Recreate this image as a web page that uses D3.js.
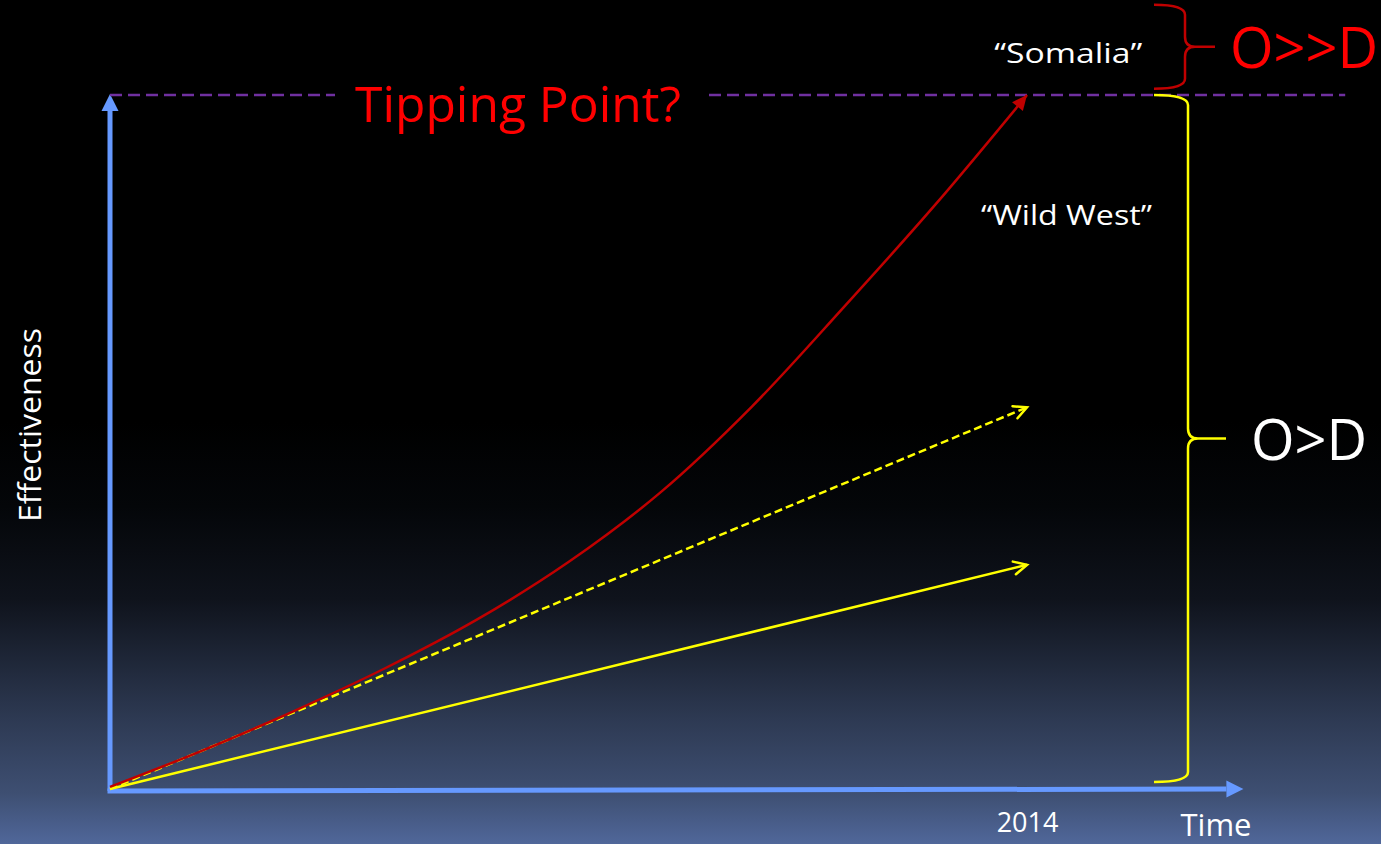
<!DOCTYPE html>
<html>
<head>
<meta charset="utf-8">
<script src="https://cdn.jsdelivr.net/npm/d3@7"></script>
<style>
  html, body { margin: 0; padding: 0; background: #000; }
  svg { display: block; }
  text { font-family: "Open Sans", sans-serif; }
</style>
</head>
<body>
<svg id="chart" width="1381" height="844"></svg>
<script>
// ---- data ----
const redCurve = [[0,0.003],[0.1,0.055],[0.2,0.112],[0.3,0.174],[0.4,0.244],[0.5,0.327],[0.6,0.427],[0.7,0.551],[0.8,0.694],[0.9,0.842],[1.0,1.0]];
const dashedLine = [[0,0],[1,0.550]];
const solidLine = [[0,0],[1,0.323]];
const timeTicks = [1];
const timeTickLabels = ["2014"];
const tippingLevel = 1.0;
const bands = [
  { from: 0.01, to: 1.0, label: "O>D", color: "#ffff00", textColor: "#ffffff" },
  { from: 1.009, to: 1.13, label: "O>>D", color: "#c00000", textColor: "#ff0000" }
];
const regionLabels = [
  { t: 1.045, v: 1.046, text: "\u201cSomalia\u201d" },
  { t: 1.043, v: 0.813, text: "\u201cWild West\u201d" }
];

// ---- layout ----
const W = 1381, H = 844;
const svg = d3.select("#chart");
const x = d3.scaleLinear().domain([0, 1]).range([110, 1027]);
const y = d3.scaleLinear().domain([0, 1]).range([789, 95]);
const xAxisEnd = 1.236, tipLineEnd = 1.347;

// background gradient
const defs = svg.append("defs");
const grad = defs.append("linearGradient").attr("id", "bg").attr("x1", 0).attr("y1", 0).attr("x2", 0).attr("y2", 1);
[[0,"#000000"],[0.5,"#000000"],[0.6,"#040609"],[0.71,"#0f131c"],[0.85,"#2d3952"],[0.94,"#3e4f72"],[1,"#50679a"]]
  .forEach(([o,c]) => grad.append("stop").attr("offset", o).attr("stop-color", c));
svg.append("rect").attr("width", W).attr("height", H).attr("fill", "url(#bg)");

// markers
function marker(id) {
  return defs.append("marker").attr("id", id)
    .attr("markerUnits", "userSpaceOnUse").attr("orient", "auto")
    .attr("viewBox", "-30 -15 60 30").attr("markerWidth", 60).attr("markerHeight", 30)
    .attr("refX", 0).attr("refY", 0).attr("overflow", "visible");
}
marker("arrRed").append("path").attr("d", "M0,0 L-15,-7 L-15,7 Z").attr("fill", "#c00000");
marker("arrYel").append("path").attr("d", "M-13,-6.5 L0,0 L-13,6.5").attr("fill", "none")
  .attr("stroke", "#ffff00").attr("stroke-width", 2.5).attr("stroke-linecap", "round");
marker("arrBlue").append("path").attr("d", "M17,0 L0,-8.5 L0,8.5 Z").attr("fill", "#6699ff");

// axes
const g = svg.append("g");
g.append("line").attr("x1", x(0)).attr("y1", y(0) + 2).attr("x2", x(0)).attr("y2", y(1) + 16)
  .attr("stroke", "#6699ff").attr("stroke-width", 5).attr("marker-end", "url(#arrBlue)");
g.append("line").attr("x1", x(0) - 2.5).attr("y1", y(0) + 2).attr("x2", x(xAxisEnd) - 17).attr("y2", y(0))
  .attr("stroke", "#6699ff").attr("stroke-width", 5).attr("marker-end", "url(#arrBlue)");

const xAxis = d3.axisBottom(x).tickValues(timeTicks).tickFormat((d, i) => timeTickLabels[i]).tickSize(0);
const ax = g.append("g").attr("transform", `translate(0,${y(0) + 21})`).call(xAxis);
ax.select(".domain").remove();
ax.selectAll("text").attr("fill", "#ffffff").attr("font-size", 27).attr("font-family", "Open Sans, sans-serif").attr("dy", "0.71em");

g.append("text").attr("x", 1216).attr("y", 836).attr("text-anchor", "middle").attr("fill", "#fff")
  .attr("font-size", 31).text("Time");
g.append("text").attr("transform", `translate(41,${425}) rotate(-90)`).attr("text-anchor", "middle")
  .attr("fill", "#fff").attr("font-size", 31).attr("textLength", 194).attr("lengthAdjust", "spacingAndGlyphs").text("Effectiveness");

// tipping point line with label
const tp = g.append("text").attr("x", 518).attr("y", 122).attr("text-anchor", "middle").attr("fill", "#ff0000")
  .attr("font-size", 50).attr("textLength", 326).attr("lengthAdjust", "spacingAndGlyphs").text("Tipping Point?");
const bb = tp.node().getBBox();
[[x(0), bb.x - 20], [bb.x + bb.width + 28, x(tipLineEnd)]].forEach(([a, b]) => {
  g.append("line").attr("x1", a).attr("x2", b).attr("y1", y(tippingLevel)).attr("y2", y(tippingLevel))
    .attr("stroke", "#7030a0").attr("stroke-width", 2.5).attr("stroke-dasharray", "12,6");
});

// series
const line = d3.line().x(d => x(d[0])).y(d => y(d[1]));
g.append("path").datum(solidLine).attr("d", line).attr("fill", "none").attr("stroke", "#ffff00")
  .attr("stroke-width", 2.5).attr("marker-end", "url(#arrYel)");
g.append("path").datum(dashedLine).attr("d", line).attr("fill", "none").attr("stroke", "#ffff00")
  .attr("stroke-width", 2.5).attr("stroke-dasharray", "8,4").attr("marker-end", "url(#arrYel)");
g.append("path").datum(redCurve).attr("d", line.curve(d3.curveCatmullRom.alpha(0.5))).attr("fill", "none").attr("stroke", "#c00000")
  .attr("stroke-width", 2.5).attr("marker-end", "url(#arrRed)");

// braces
function brace(x0, xs, xt, y0, y1, r) {
  const ym = (y0 + y1) / 2;
  const p = d3.path();
  p.moveTo(x0, y0);
  p.quadraticCurveTo(xs, y0, xs, y0 + r);
  p.lineTo(xs, ym - r);
  p.quadraticCurveTo(xs, ym, xs + r, ym);
  p.lineTo(xt, ym);
  p.moveTo(xs + r, ym);
  p.quadraticCurveTo(xs, ym, xs, ym + r);
  p.lineTo(xs, y1 - r);
  p.quadraticCurveTo(xs, y1, x0, y1);
  return p.toString();
}
const braceX0 = 1154, braceXs = 1188;
bands.forEach((b, i) => {
  const y0 = y(b.to), y1 = y(b.from);
  const xt = i === 0 ? 1226 : 1215;
  g.append("path").attr("d", brace(braceX0, braceXs - (i ? 3 : 0), xt, y0, y1, 10)).attr("fill", "none")
    .attr("stroke", b.color).attr("stroke-width", 2.5);
  g.append("text").attr("x", i === 0 ? 1309 : 1304).attr("y", (y0 + y1) / 2 + 21).attr("text-anchor", "middle")
    .attr("fill", b.textColor).attr("font-size", 56).text(b.label);
});

regionLabels.forEach(l => {
  g.append("text").attr("x", x(l.t)).attr("y", y(l.v)).attr("text-anchor", "middle")
    .attr("fill", "#fff").attr("font-size", 27).attr("textLength", l.text.length > 10 ? 171 : 148)
    .attr("lengthAdjust", "spacingAndGlyphs").text(l.text);
});
</script>
</body>
</html>
